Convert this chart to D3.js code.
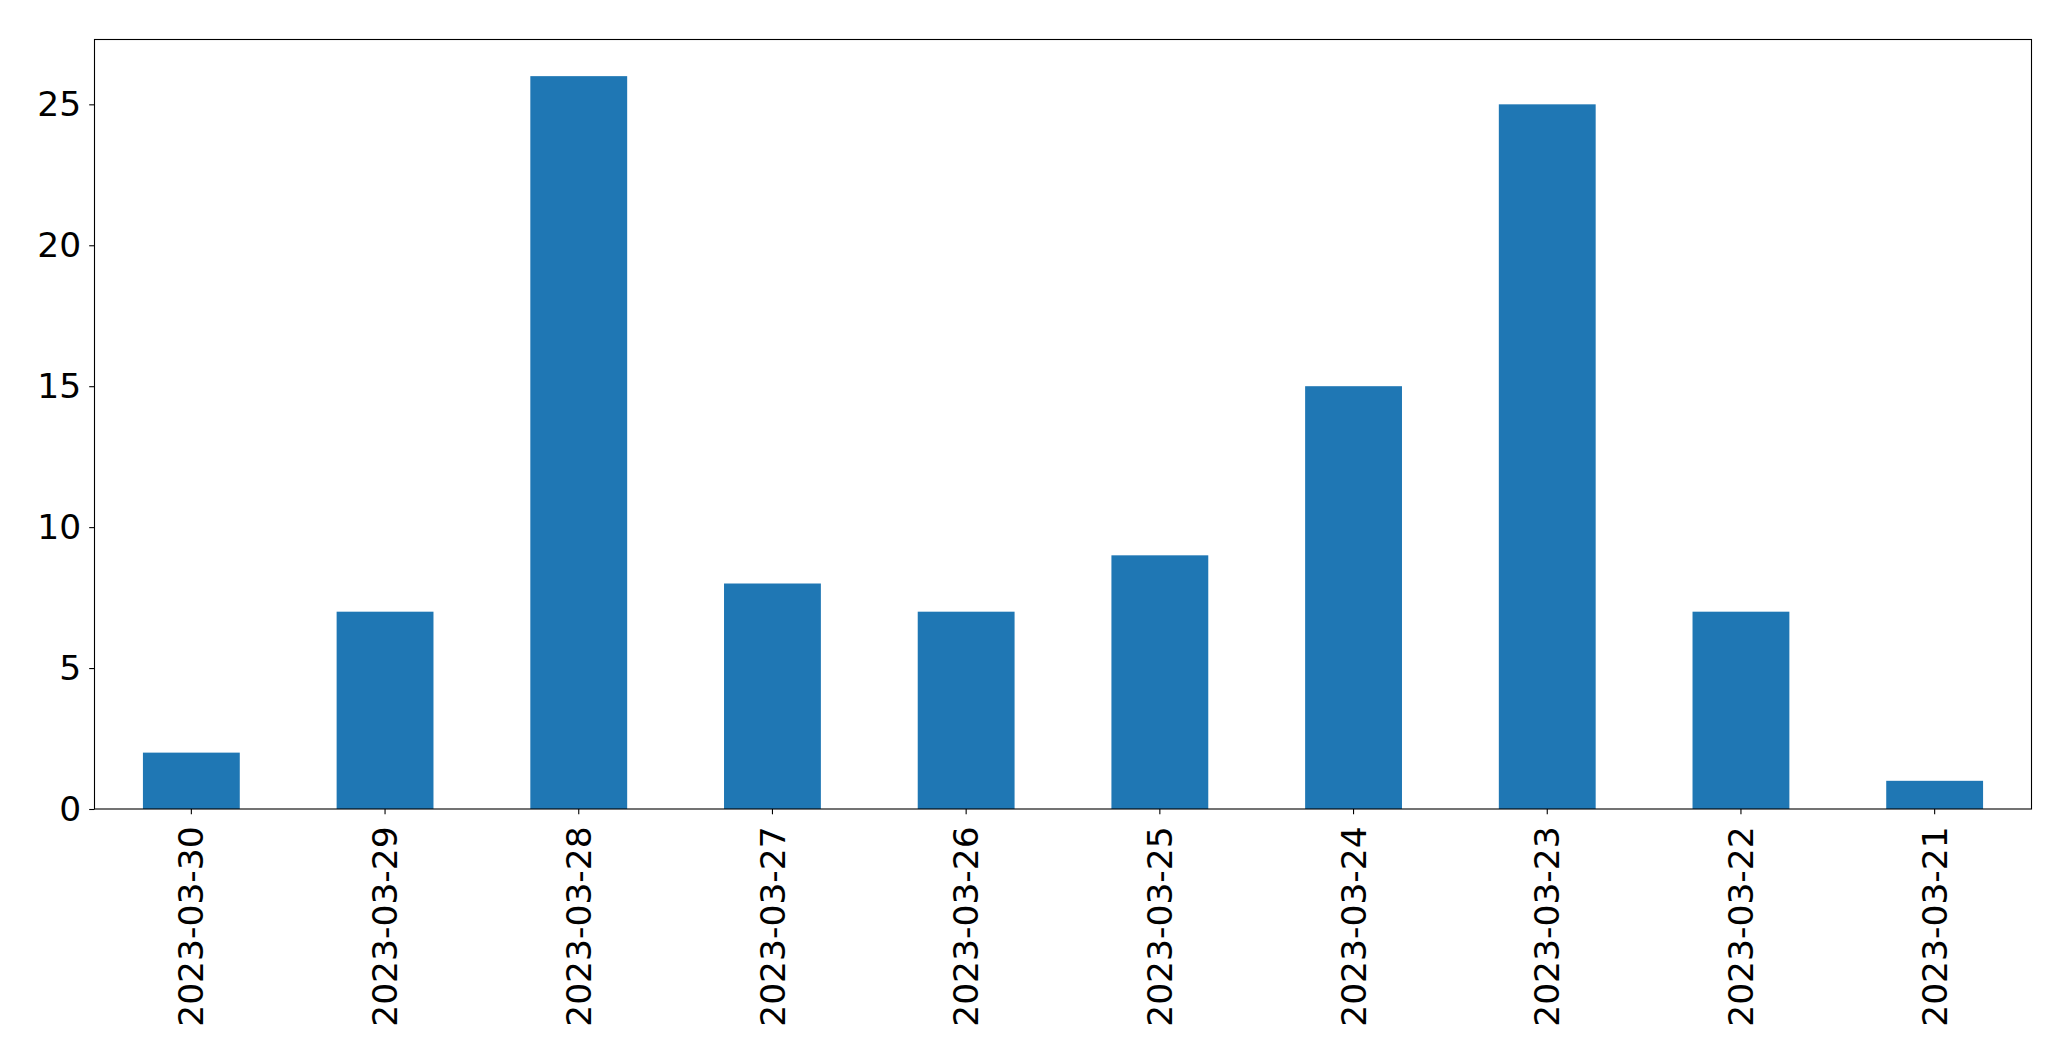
<!DOCTYPE html>
<html>
<head>
<meta charset="utf-8">
<script src="https://cdn.jsdelivr.net/npm/d3@7"></script>
<style>
  body { margin: 0; background: #fff; }
  svg text { font-family: "DejaVu Sans", sans-serif; }
</style>
</head>
<body>
<div id="chart"></div>
<script>
const dates = ["2023-03-30", "2023-03-29", "2023-03-28", "2023-03-27", "2023-03-26",
               "2023-03-25", "2023-03-24", "2023-03-23", "2023-03-22", "2023-03-21"];
const counts = [2, 7, 26, 8, 7, 9, 15, 25, 7, 1];
const yTicks = [0, 5, 10, 15, 20, 25];

const svgWidth = 2071, svgHeight = 1061;
const margin = {top: 39.5, right: 39.5, bottom: 252, left: 94.5};
const width = svgWidth - margin.left - margin.right;
const height = svgHeight - margin.top - margin.bottom;
const fontSize = 34.5;
const tickLen = 5.3;

const svg = d3.select("#chart").append("svg")
    .attr("width", svgWidth)
    .attr("height", svgHeight);

const plotArea = svg.append("g")
    .attr("transform", `translate(${margin.left}, ${margin.top})`);

const xscale = d3.scaleBand()
    .domain(dates)
    .range([0, width])
    .paddingInner(0.5)
    .paddingOuter(0.25);

const yscale = d3.scaleLinear()
    .domain([0, d3.max(counts) * 1.05])
    .range([height, 0]);

plotArea.selectAll(".bar")
    .data(dates)
    .join("rect")
        .attr("class", "bar")
        .attr("x", d => xscale(d))
        .attr("width", xscale.bandwidth())
        .attr("y", (d, i) => yscale(counts[i]))
        .attr("height", (d, i) => height - yscale(counts[i]))
        .attr("fill", "#1f77b4");

// axes
const xAxis = d3.axisBottom(xscale).tickSize(tickLen).tickPadding(6);
const yAxis = d3.axisLeft(yscale).tickValues(yTicks).tickSize(tickLen).tickPadding(8);

const gX = plotArea.append("g")
    .attr("transform", `translate(0,${height})`)
    .call(xAxis);
gX.select(".domain").remove();
gX.selectAll("text")
    .attr("font-size", fontSize)
    .attr("fill", "#000")
    .attr("transform", "rotate(-90)")
    .attr("text-anchor", "end")
    .attr("x", -(tickLen + 12))
    .attr("y", 0)
    .attr("dy", "0.35em");

const gY = plotArea.append("g").call(yAxis);
gY.select(".domain").remove();
gY.selectAll("text")
    .attr("font-size", fontSize)
    .attr("fill", "#000");

gX.selectAll("line").attr("stroke", "#000").attr("stroke-width", 1.1);
gY.selectAll("line").attr("stroke", "#000").attr("stroke-width", 1.1);

// frame
plotArea.append("rect")
    .attr("width", width)
    .attr("height", height)
    .attr("fill", "none")
    .attr("stroke", "#000")
    .attr("stroke-width", 1.1);
</script>
</body>
</html>
